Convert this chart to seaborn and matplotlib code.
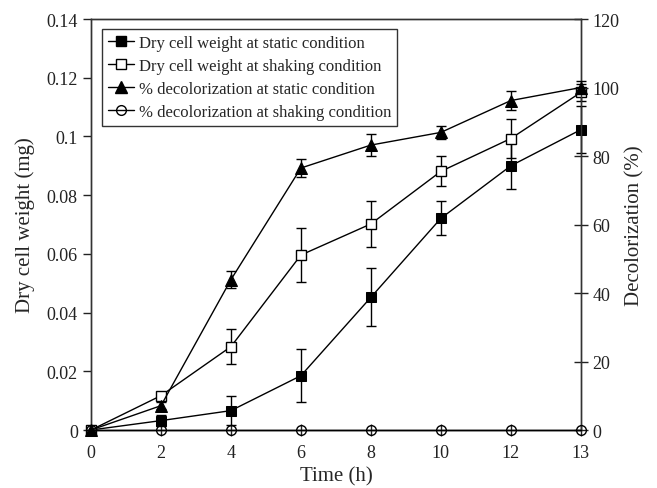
import numpy as np
import pandas as pd
import matplotlib
matplotlib.use("Agg")
import matplotlib.pyplot as plt
import seaborn as sns
from matplotlib.lines import Line2D

time_labels = ["0", "2", "4", "6", "8", "10", "12", "13"]

dcw_static = [0.0, 0.0032, 0.0066, 0.0185, 0.0452, 0.0721, 0.0900, 0.1023]
dcw_static_err = [0.0, 0.0020, 0.0050, 0.0090, 0.0099, 0.0058, 0.0080, 0.0080]
dcw_shaking = [0.0, 0.0117, 0.0284, 0.0596, 0.0702, 0.0881, 0.0993, 0.1150]
dcw_shaking_err = [0.0, 0.0008, 0.0060, 0.0093, 0.0079, 0.0051, 0.0068, 0.0030]
dec_static = [0.0, 7.1, 43.9, 76.5, 83.2, 86.9, 96.2, 100.0]
dec_static_err = [0.0, 1.0, 2.4, 2.5, 3.1, 2.0, 2.8, 2.0]
dec_shaking = [0.0, 0.0, 0.0, 0.0, 0.0, 0.0, 0.0, 0.0]

names = ["Dry cell weight at static condition",
         "Dry cell weight at shaking condition",
         "% decolorization at static condition",
         "% decolorization at shaking condition"]

sns.set_theme(style="ticks")
plt.rcParams["font.family"] = ["Liberation Serif", "DejaVu Serif"]

fig = plt.figure(figsize=(6.57, 4.89), dpi=100)
ax = fig.add_axes([0.1385, 0.1186, 0.7455, 0.8404])
ax2 = ax.twinx()

pos = np.arange(len(time_labels))
df = pd.DataFrame({"pos": pos, "dcw_static": dcw_static, "dcw_shaking": dcw_shaking,
                   "dec_static": dec_static, "dec_shaking": dec_shaking})

lw = 1.0
ms = 7
sns.lineplot(data=df, x="pos", y="dcw_static", ax=ax, color="black", lw=lw,
             marker="s", markersize=ms, markerfacecolor="black", markeredgecolor="black",
             zorder=4, clip_on=False)
sns.lineplot(data=df, x="pos", y="dcw_shaking", ax=ax, color="black", lw=lw,
             marker="s", markersize=ms, markerfacecolor="white", markeredgecolor="black",
             markeredgewidth=1.0, zorder=5, clip_on=False)
for vals, errs in ((dcw_static, dcw_static_err), (dcw_shaking, dcw_shaking_err)):
    eb = ax.errorbar(pos, vals, yerr=errs, fmt="none", ecolor="black",
                     elinewidth=1.0, capsize=3.5, capthick=1.0, zorder=3)
    for art in eb.lines[1] + eb.lines[2]:
        art.set_clip_on(False)

sns.lineplot(data=df, x="pos", y="dec_static", ax=ax2, color="black", lw=lw,
             marker="^", markersize=ms + 1, markerfacecolor="black", markeredgecolor="black",
             zorder=4, clip_on=False)
sns.lineplot(data=df, x="pos", y="dec_shaking", ax=ax2, color="black", lw=lw,
             marker="o", markersize=ms, markerfacecolor="none", markeredgecolor="black",
             markeredgewidth=1.0, zorder=5, clip_on=False)
eb = ax2.errorbar(pos, dec_static, yerr=dec_static_err, fmt="none", ecolor="black",
                  elinewidth=1.0, capsize=3.5, capthick=1.0, zorder=3)
for art in eb.lines[1] + eb.lines[2]:
    art.set_clip_on(False)

ax.set_xlim(0, len(time_labels) - 1)
ax.set_ylim(0, 0.14)
ax2.set_ylim(0, 120)
ax.set_xticks(pos)
ax.set_xticklabels(time_labels)
ax.set_yticks([0, 0.02, 0.04, 0.06, 0.08, 0.1, 0.12, 0.14])
ax.set_yticklabels(["0", "0.02", "0.04", "0.06", "0.08", "0.1", "0.12", "0.14"])
ax2.set_yticks([0, 20, 40, 60, 80, 100, 120])

fs = 13
ax.tick_params(axis="x", direction="inout", length=8, width=1, pad=6,
               labelsize=fs, colors="#222222")
ax.tick_params(axis="y", direction="out", length=6, width=1, labelsize=fs, colors="#222222")
ax2.tick_params(axis="y", direction="inout", length=10, width=1, labelsize=fs, colors="#222222")

ax.set_xlabel("Time (h)", fontsize=15, labelpad=4)
ax.set_ylabel("Dry cell weight (mg)", fontsize=15, labelpad=8)
ax2.set_ylabel("Decolorization (%)", fontsize=15, labelpad=4)

for a in (ax, ax2):
    for s in a.spines.values():
        s.set_color("#333333")
        s.set_linewidth(1.0)
    a.grid(False)

handles = [
    Line2D([], [], color="black", lw=lw, marker="s", markersize=ms, markerfacecolor="black"),
    Line2D([], [], color="black", lw=lw, marker="s", markersize=ms, markerfacecolor="white"),
    Line2D([], [], color="black", lw=lw, marker="^", markersize=ms + 1, markerfacecolor="black"),
    Line2D([], [], color="black", lw=lw, marker="o", markersize=ms, markerfacecolor="none"),
]
leg = ax2.legend(handles, names, loc="upper left", bbox_to_anchor=(0.022, 0.975),
                 fontsize=12, frameon=True, fancybox=False, framealpha=1,
                 edgecolor="#333333", handlelength=1.6, handletextpad=0.3,
                 borderpad=0.35, labelspacing=0.42, borderaxespad=0)
leg.get_frame().set_linewidth(1.0)
leg.set_zorder(10)

fig.savefig("out.png", dpi=100)
